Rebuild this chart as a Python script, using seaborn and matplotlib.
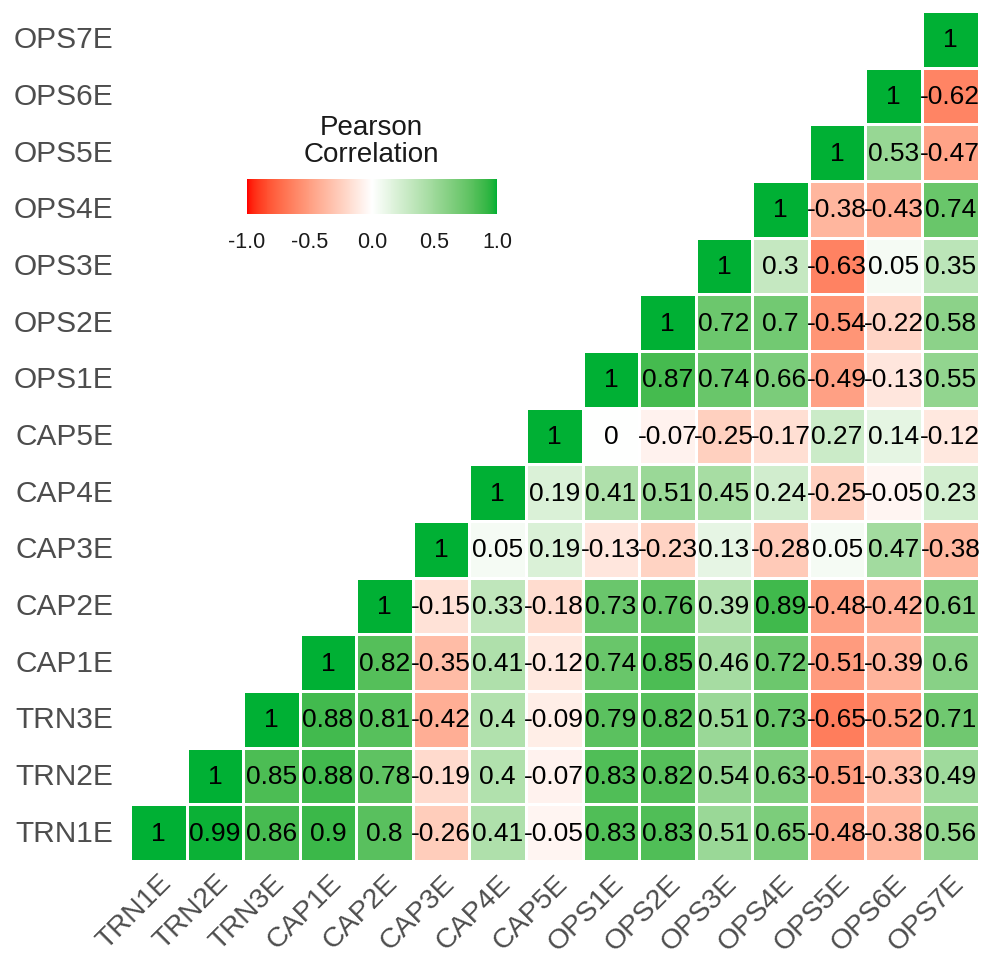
import numpy as np
import pandas as pd
import seaborn as sns
import matplotlib.pyplot as plt
from matplotlib.colors import ListedColormap

variables = ['TRN1E', 'TRN2E', 'TRN3E', 'CAP1E', 'CAP2E', 'CAP3E', 'CAP4E', 'CAP5E',
             'OPS1E', 'OPS2E', 'OPS3E', 'OPS4E', 'OPS5E', 'OPS6E', 'OPS7E']

# correlation of each variable with the variables after it
trn1e = [0.99, 0.86, 0.9, 0.8, -0.26, 0.41, -0.05, 0.83, 0.83, 0.51, 0.65, -0.48, -0.38, 0.56]
trn2e = [0.85, 0.88, 0.78, -0.19, 0.4, -0.07, 0.83, 0.82, 0.54, 0.63, -0.51, -0.33, 0.49]
trn3e = [0.88, 0.81, -0.42, 0.4, -0.09, 0.79, 0.82, 0.51, 0.73, -0.65, -0.52, 0.71]
cap1e = [0.82, -0.35, 0.41, -0.12, 0.74, 0.85, 0.46, 0.72, -0.51, -0.39, 0.6]
cap2e = [-0.15, 0.33, -0.18, 0.73, 0.76, 0.39, 0.89, -0.48, -0.42, 0.61]
cap3e = [0.05, 0.19, -0.13, -0.23, 0.13, -0.28, 0.05, 0.47, -0.38]
cap4e = [0.19, 0.41, 0.51, 0.45, 0.24, -0.25, -0.05, 0.23]
cap5e = [0, -0.07, -0.25, -0.17, 0.27, 0.14, -0.12]
ops1e = [0.87, 0.74, 0.66, -0.49, -0.13, 0.55]
ops2e = [0.72, 0.7, -0.54, -0.22, 0.58]
ops3e = [0.3, -0.63, 0.05, 0.35]
ops4e = [-0.38, -0.43, 0.74]
ops5e = [0.53, -0.47]
ops6e = [-0.62]
ops7e = []

rows = [trn1e, trn2e, trn3e, cap1e, cap2e, cap3e, cap4e, cap5e,
        ops1e, ops2e, ops3e, ops4e, ops5e, ops6e, ops7e]

cbar_ticks = [-1.0, -0.5, 0.0, 0.5, 1.0]

# sRGB <-> Lab, so the gradient is interpolated like ggplot does it
M_XYZ = np.array([[0.4124, 0.3576, 0.1805],
                  [0.2126, 0.7152, 0.0722],
                  [0.0193, 0.1192, 0.9505]])
WHITE = np.array([0.95047, 1.0, 1.08883])


def srgb_to_lab(rgb):
    rgb = np.asarray(rgb, float)
    lin = np.where(rgb <= 0.04045, rgb / 12.92, ((rgb + 0.055) / 1.055) ** 2.4)
    xyz = M_XYZ @ lin / WHITE
    f = np.where(xyz > 0.008856, np.cbrt(xyz), 7.787 * xyz + 16 / 116)
    return np.array([116 * f[1] - 16, 500 * (f[0] - f[1]), 200 * (f[1] - f[2])])


def lab_to_srgb(lab):
    L, a, b = lab
    fy = (L + 16) / 116
    f = np.array([fy + a / 500, fy, fy - b / 200])
    xyz = np.where(f > 0.206893, f ** 3, (f - 16 / 116) / 7.787) * WHITE
    lin = np.linalg.inv(M_XYZ) @ xyz
    lin = np.clip(lin, 0, None)
    rgb = np.where(lin <= 0.0031308, 12.92 * lin, 1.055 * lin ** (1 / 2.4) - 0.055)
    return np.clip(rgb, 0, 1)


def hex_rgb(h):
    return np.array([int(h[i:i + 2], 16) / 255 for i in (1, 3, 5)])


low = srgb_to_lab(hex_rgb('#FF0000'))
mid = srgb_to_lab(hex_rgb('#FFFFFF'))
high = srgb_to_lab(hex_rgb('#00B034'))
colors = []
for t in np.linspace(-1, 1, 256):
    end = low if t < 0 else high
    colors.append(lab_to_srgb(mid + (end - mid) * abs(t)))
cmap = ListedColormap(colors)

# build the matrix (upper triangle only)
n = len(variables)
mat = np.full((n, n), np.nan)
for i in range(n):
    mat[i, i] = 1.0
    mat[i, i + 1:] = rows[i]

df = pd.DataFrame(mat, index=variables, columns=variables).iloc[::-1]
labels = df.map(lambda v: '' if np.isnan(v) else '{:g}'.format(v))

sns.set_theme(style='white')
plt.rcParams['font.family'] = ['Liberation Sans', 'DejaVu Sans']

fig = plt.figure(figsize=(9.86, 9.62), dpi=100)
ax = fig.add_axes([0.1318, 0.104, 0.8607, 0.8836])

sns.heatmap(df, ax=ax, cmap=cmap, vmin=-1, vmax=1, annot=labels, fmt='',
            annot_kws={'fontsize': 19, 'color': 'black'},
            linewidths=1, linecolor='white', cbar=False)

ax.tick_params(axis='both', length=0, colors='#4D4D4D', labelsize=21.5)
ax.tick_params(axis='y', pad=12)
ax.tick_params(axis='x', pad=6, labelsize=20.5)
plt.setp(ax.get_yticklabels(), rotation=0, ha='right')
plt.setp(ax.get_xticklabels(), rotation=45, ha='right', va='top', rotation_mode='anchor')
ax.set_xlabel('')
ax.set_ylabel('')

# legend colour bar
cax = fig.add_axes([0.2505, 0.7765, 0.2535, 0.0364])
cb = fig.colorbar(ax.collections[0], cax=cax, orientation='horizontal')
cb.outline.set_visible(False)
cb.set_ticks(cbar_ticks)
cb.set_ticklabels(['{:.1f}'.format(t) for t in cbar_ticks])
cax.tick_params(axis='x', direction='in', length=5, width=1.2, color='white',
                top=True, bottom=True, labelsize=15.5, labelcolor='#1A1A1A', pad=12)

fig.text(0.377, 0.853, 'Pearson\nCorrelation', ha='center', va='center',
         fontsize=20, color='#1A1A1A', linespacing=1.07)

fig.savefig('out.png', dpi=100, facecolor='white')
